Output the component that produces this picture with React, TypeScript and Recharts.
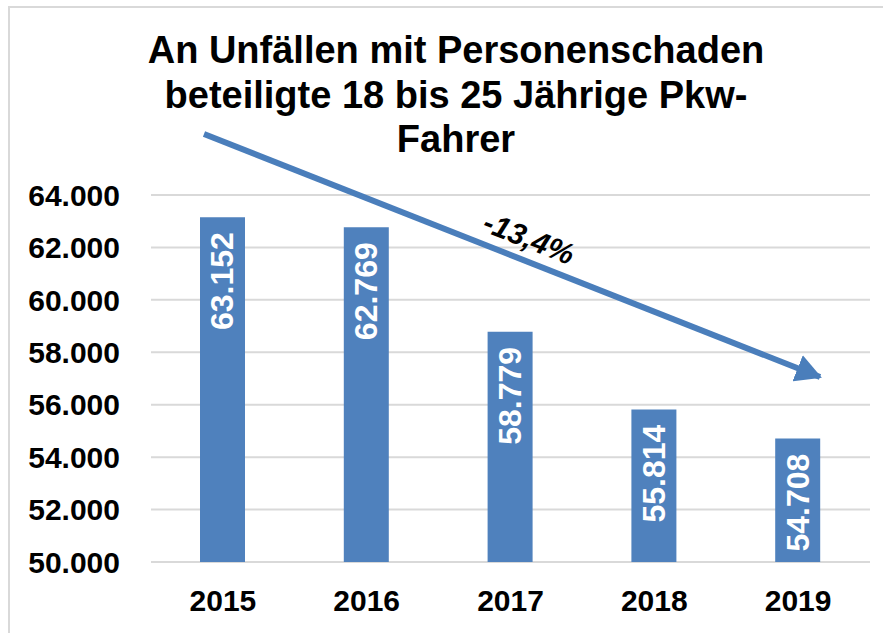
import { BarChart, Bar, XAxis, YAxis, CartesianGrid, LabelList } from 'recharts';

const YEARS = ['2015', '2016', '2017', '2018', '2019'];
const DRIVERS = [63152, 62769, 58779, 55814, 54708];
const Y_TICKS = [50000, 52000, 54000, 56000, 58000, 60000, 62000, 64000];
const TITLE_LINES = ['An Unfällen mit Personenschaden', 'beteiligte 18 bis 25 Jährige Pkw-', 'Fahrer'];
const CHANGE_LABEL = '-13,4%';

const FONT = '"Liberation Sans", Arial, sans-serif';
const BLUE = '#4F81BD';

const fmt = (v: number) => String(v).replace(/\B(?=(\d{3})+(?!\d))/g, '.');

const data = YEARS.map((year, i) => ({ year, value: DRIVERS[i] }));

// rotated value label, reading bottom-to-top, ending just under the bar top
const BarValue = (props: any) => {
  const { x, y, width, value } = props;
  const cx = x + width / 2;
  const cy = y + 15;
  return (
    <text
      x={cx}
      y={cy}
      transform={`rotate(-90 ${cx} ${cy})`}
      textAnchor="end"
      dominantBaseline="central"
      fill="#fff"
      fontFamily={FONT}
      fontWeight="bold"
      fontSize={32}
    >
      {fmt(value)}
    </text>
  );
};

export default function App() {
  return (
    <div style={{ position: 'absolute', left: 0, top: 0, width: 883, height: 633, overflow: 'hidden', background: '#fff' }}>
      {/* frame: only top and left edges are visible in the picture */}
      <div style={{ position: 'absolute', left: 8, top: 6, width: 900, height: 700, borderTop: '2px solid #d9d9d9', borderLeft: '2px solid #d9d9d9' }} />
      <div style={{ position: 'absolute', left: 0, top: 0 }}>
        <BarChart width={883} height={633} data={data} margin={{ top: 195, right: 13, bottom: 0, left: 0 }}>
          <CartesianGrid vertical={false} stroke="#d9d9d9" strokeWidth={2} />
          <XAxis
            dataKey="year"
            axisLine={false}
            tickLine={false}
            tickSize={0}
            tickMargin={28}
            height={71}
            tick={{ fill: '#000', fontSize: 30, fontWeight: 'bold', fontFamily: FONT }}
          />
          <YAxis
            domain={[50000, 64000]}
            ticks={Y_TICKS}
            axisLine={false}
            tickLine={false}
            tickSize={0}
            tickMargin={31}
            width={151}
            tickFormatter={fmt}
            tick={{ fill: '#000', fontSize: 30, fontWeight: 'bold', fontFamily: FONT }}
          />
          <Bar dataKey="value" fill={BLUE} barSize={45} isAnimationActive={false}>
            <LabelList dataKey="value" content={BarValue} />
          </Bar>
        </BarChart>
      </div>
      <svg width={883} height={633} style={{ position: 'absolute', left: 0, top: 0, pointerEvents: 'none' }}>
        <defs>
          <marker id="head" markerUnits="userSpaceOnUse" markerWidth={26} markerHeight={28} refX={24} refY={14} orient="auto">
            <path d="M0,0 L26,14 L0,28 Z" fill="#4A7EBB" />
          </marker>
        </defs>
        {TITLE_LINES.map((line, i) => (
          <text
            key={line}
            x={456}
            y={63 + i * 44.5}
            textAnchor="middle"
            fontFamily={FONT}
            fontWeight="bold"
            fontSize={38}
            fill="#000"
          >
            {line}
          </text>
        ))}
        <line x1={204} y1={134} x2={820} y2={377} stroke="#4A7EBB" strokeWidth={6} markerEnd="url(#head)" />
        <text
          x={529}
          y={238}
          transform="rotate(21.5 529 238)"
          textAnchor="middle"
          dominantBaseline="central"
          fontFamily={FONT}
          fontWeight="bold"
          fontStyle="italic"
          fontSize={30}
          fill="#000"
        >
          {CHANGE_LABEL}
        </text>
      </svg>
    </div>
  );
}
